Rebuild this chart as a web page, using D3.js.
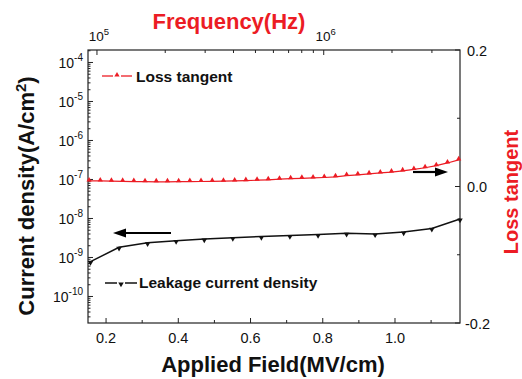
<!DOCTYPE html>
<html>
<head>
<meta charset="utf-8">
<script src="https://cdn.jsdelivr.net/npm/d3@7"></script>
<style>
  body { margin: 0; background: #fff; }
  svg { display: block; font-family: "Liberation Sans", Arial, sans-serif; }
</style>
</head>
<body>
<script>
// leakage current density vs applied field (bottom / left axes)
const fieldValues = [0.157, 0.236, 0.315, 0.394, 0.472, 0.551, 0.630, 0.709, 0.787, 0.866, 0.945, 1.024, 1.102, 1.180];
const currentValues = [7.8e-10, 1.83e-9, 2.39e-9, 2.70e-9, 2.98e-9, 3.22e-9, 3.45e-9, 3.66e-9, 3.89e-9, 4.18e-9, 4.01e-9, 4.51e-9, 5.55e-9, 9.7e-9];

// loss tangent vs frequency (top / right axes)
const freqValues = [9.23e4, 1.034e5, 1.158e5, 1.298e5, 1.454e5, 1.629e5, 1.826e5, 2.046e5, 2.292e5, 2.568e5,
  2.877e5, 3.224e5, 3.612e5, 4.048e5, 4.535e5, 5.082e5, 5.693e5, 6.379e5, 7.148e5, 8.009e5,
  8.974e5, 1.0055e6, 1.127e6, 1.262e6, 1.414e6, 1.585e6, 1.776e6, 1.990e6, 2.229e6, 2.498e6,
  2.799e6, 3.136e6, 3.514e6, 3.937e6];
const lossValues = [0.0081, 0.0081, 0.0078, 0.0075, 0.0072, 0.0070, 0.0069, 0.0069, 0.0070, 0.0072,
  0.0073, 0.0075, 0.0078, 0.0081, 0.0086, 0.0092, 0.0098, 0.0107, 0.0114, 0.0120,
  0.0125, 0.0132, 0.0142, 0.0160, 0.0171, 0.0185, 0.0199, 0.0212, 0.0229, 0.0250,
  0.0275, 0.0305, 0.0345, 0.0390];

const fieldTicks = [0.2, 0.4, 0.6, 0.8, 1.0];
const lossTicks = [-0.2, 0.0, 0.2];

const W = 522, H = 379;
const plotL = 88, plotR = 460, plotT = 50, plotB = 323;
const red = "#ec1c24";

const svg = d3.select("body").append("svg").attr("width", W).attr("height", H);

const x = d3.scaleLinear().domain([0.15, 1.18]).range([plotL, plotR]);
const y = d3.scaleLog().domain([Math.pow(10, -10.68), Math.pow(10, -3.68)]).range([plotB, plotT]);
const xf = d3.scaleLog().domain([9.13e4, 3.99e6]).range([plotL, plotR]);
const yl = d3.scaleLinear().domain([-0.2, 0.2]).range([plotB, plotT]);

const isDecade = v => Math.abs(Math.log10(v) - Math.round(Math.log10(v))) < 1e-6;

// frame
svg.append("rect")
    .attr("x", plotL).attr("y", plotT)
    .attr("width", plotR - plotL).attr("height", plotB - plotT)
    .attr("fill", "none").attr("stroke", "#222").attr("stroke-width", 1.2);

const ticks = svg.append("g").attr("stroke", "#222").attr("stroke-width", 1);

// bottom ticks (inside)
d3.range(0.2, 1.15, 0.1).forEach((v, i) => {
  const len = i % 2 === 0 ? 5 : 3;
  ticks.append("line").attr("x1", x(v)).attr("x2", x(v)).attr("y1", plotB).attr("y2", plotB - len);
});
svg.append("g").selectAll("text").data(fieldTicks).join("text")
    .attr("x", d => x(d)).attr("y", 343)
    .attr("text-anchor", "middle").attr("font-size", 14.5).attr("fill", "#111")
    .text(d => d.toFixed(1));

// left log ticks
y.ticks().forEach(v => {
  const len = isDecade(v) ? 5 : 2.5;
  ticks.append("line").attr("x1", plotL).attr("x2", plotL + len).attr("y1", y(v)).attr("y2", y(v));
});
const leftLab = svg.append("g").selectAll("text")
    .data(y.ticks().filter(isDecade))
    .join("text")
    .attr("x", 83).attr("y", d => y(d) + 6)
    .attr("text-anchor", "end").attr("font-size", 14).attr("fill", "#111");
leftLab.append("tspan").text("10");
leftLab.append("tspan").attr("dy", -7).attr("font-size", 10).text(d => Math.round(Math.log10(d)));

// top log ticks
xf.ticks().forEach(v => {
  const len = isDecade(v) ? 5 : 3;
  ticks.append("line").attr("x1", xf(v)).attr("x2", xf(v)).attr("y1", plotT).attr("y2", plotT + len);
});
const topLab = svg.append("g").selectAll("text")
    .data(xf.ticks().filter(isDecade))
    .join("text")
    .attr("x", d => xf(d) + 2).attr("y", 41)
    .attr("text-anchor", "middle").attr("font-size", 13.5).attr("fill", "#111");
topLab.append("tspan").text("10");
topLab.append("tspan").attr("dy", -6).attr("font-size", 9.5).text(d => Math.round(Math.log10(d)));

// right linear ticks
d3.range(-0.2, 0.21, 0.1).forEach((v, i) => {
  const len = i % 2 === 0 ? 5 : 3;
  ticks.append("line").attr("x1", plotR).attr("x2", plotR - len).attr("y1", yl(v)).attr("y2", yl(v));
});
svg.append("g").selectAll("text").data(lossTicks).join("text")
    .attr("x", d => d < 0 ? 465 : 467).attr("y", d => yl(d) + 5.5)
    .attr("font-size", 14.5).attr("fill", "#111")
    .text(d => d.toFixed(1));

// series
const markerUp = d3.symbol().type(d3.symbolTriangle).size(12);
const markerDown = d3.symbol().type(d3.symbolTriangle).size(13);

svg.append("path")
    .datum(freqValues.map((f, i) => [f, lossValues[i]]))
    .attr("fill", "none").attr("stroke", red).attr("stroke-width", 1.2)
    .attr("d", d3.line().x(d => xf(d[0])).y(d => yl(d[1])));
svg.append("g").selectAll("path")
    .data(freqValues.map((f, i) => [f, lossValues[i]]))
    .join("path")
    .attr("transform", d => `translate(${xf(d[0])},${yl(d[1]) - 1})`)
    .attr("d", markerUp).attr("fill", red);

svg.append("path")
    .datum(fieldValues.map((f, i) => [f, currentValues[i]]))
    .attr("fill", "none").attr("stroke", "#111").attr("stroke-width", 1.5)
    .attr("d", d3.line().x(d => x(d[0])).y(d => y(d[1])));
svg.append("g").selectAll("path")
    .data(fieldValues.map((f, i) => [f, currentValues[i]]))
    .join("path")
    .attr("transform", d => `translate(${x(d[0])},${y(d[1]) + 1}) rotate(180)`)
    .attr("d", markerDown).attr("fill", "#111");

// arrows
function arrow(x1, x2, yy) {
  const dir = Math.sign(x2 - x1);
  svg.append("line").attr("x1", x1).attr("x2", x2 - dir * 10).attr("y1", yy).attr("y2", yy)
      .attr("stroke", "#000").attr("stroke-width", 2.2);
  svg.append("path")
      .attr("d", `M${x2},${yy} L${x2 - dir * 13},${yy - 4.5} L${x2 - dir * 13},${yy + 4.5} Z`)
      .attr("fill", "#000");
}
arrow(171, 113, 233);
arrow(413, 448, 172);

// legends
const lg1 = svg.append("g");
lg1.append("line").attr("x1", 102).attr("x2", 113).attr("y1", 76).attr("y2", 76)
    .attr("stroke", red).attr("stroke-width", 1.3);
lg1.append("line").attr("x1", 121).attr("x2", 132).attr("y1", 76).attr("y2", 76)
    .attr("stroke", red).attr("stroke-width", 1.3);
lg1.append("path").attr("transform", "translate(117,75)").attr("d", markerUp).attr("fill", red);
lg1.append("text").attr("x", 136).attr("y", 82).attr("font-size", 15.5).attr("font-weight", "bold")
    .attr("fill", "#111").text("Loss tangent");

const lg2 = svg.append("g");
lg2.append("line").attr("x1", 105).attr("x2", 117).attr("y1", 283).attr("y2", 283)
    .attr("stroke", "#111").attr("stroke-width", 1.5);
lg2.append("line").attr("x1", 125).attr("x2", 137).attr("y1", 283).attr("y2", 283)
    .attr("stroke", "#111").attr("stroke-width", 1.5);
lg2.append("path").attr("transform", "translate(121,284) rotate(180)").attr("d", markerDown).attr("fill", "#111");
lg2.append("text").attr("x", 139).attr("y", 288).attr("font-size", 15.5).attr("font-weight", "bold")
    .attr("fill", "#111").text("Leakage current density");

// axis titles
svg.append("text").attr("x", 273).attr("y", 372).attr("text-anchor", "middle")
    .attr("font-size", 22).attr("font-weight", "bold").attr("fill", "#111")
    .text("Applied Field(MV/cm)");

svg.append("text").attr("x", 229).attr("y", 29).attr("text-anchor", "middle")
    .attr("font-size", 22).attr("font-weight", "bold").attr("fill", red)
    .text("Frequency(Hz)");

const lt = svg.append("text")
    .attr("transform", "translate(34,196) rotate(-90)")
    .attr("text-anchor", "middle").attr("font-size", 22).attr("font-weight", "bold").attr("fill", "#111");
lt.append("tspan").text("Current density(A/cm");
lt.append("tspan").attr("dy", -8).attr("font-size", 15).text("2");
lt.append("tspan").attr("dy", 8).text(")");

svg.append("text")
    .attr("transform", "translate(518,192) rotate(-90)")
    .attr("text-anchor", "middle").attr("font-size", 20).attr("font-weight", "bold").attr("fill", red)
    .text("Loss tangent");
</script>
</body>
</html>
